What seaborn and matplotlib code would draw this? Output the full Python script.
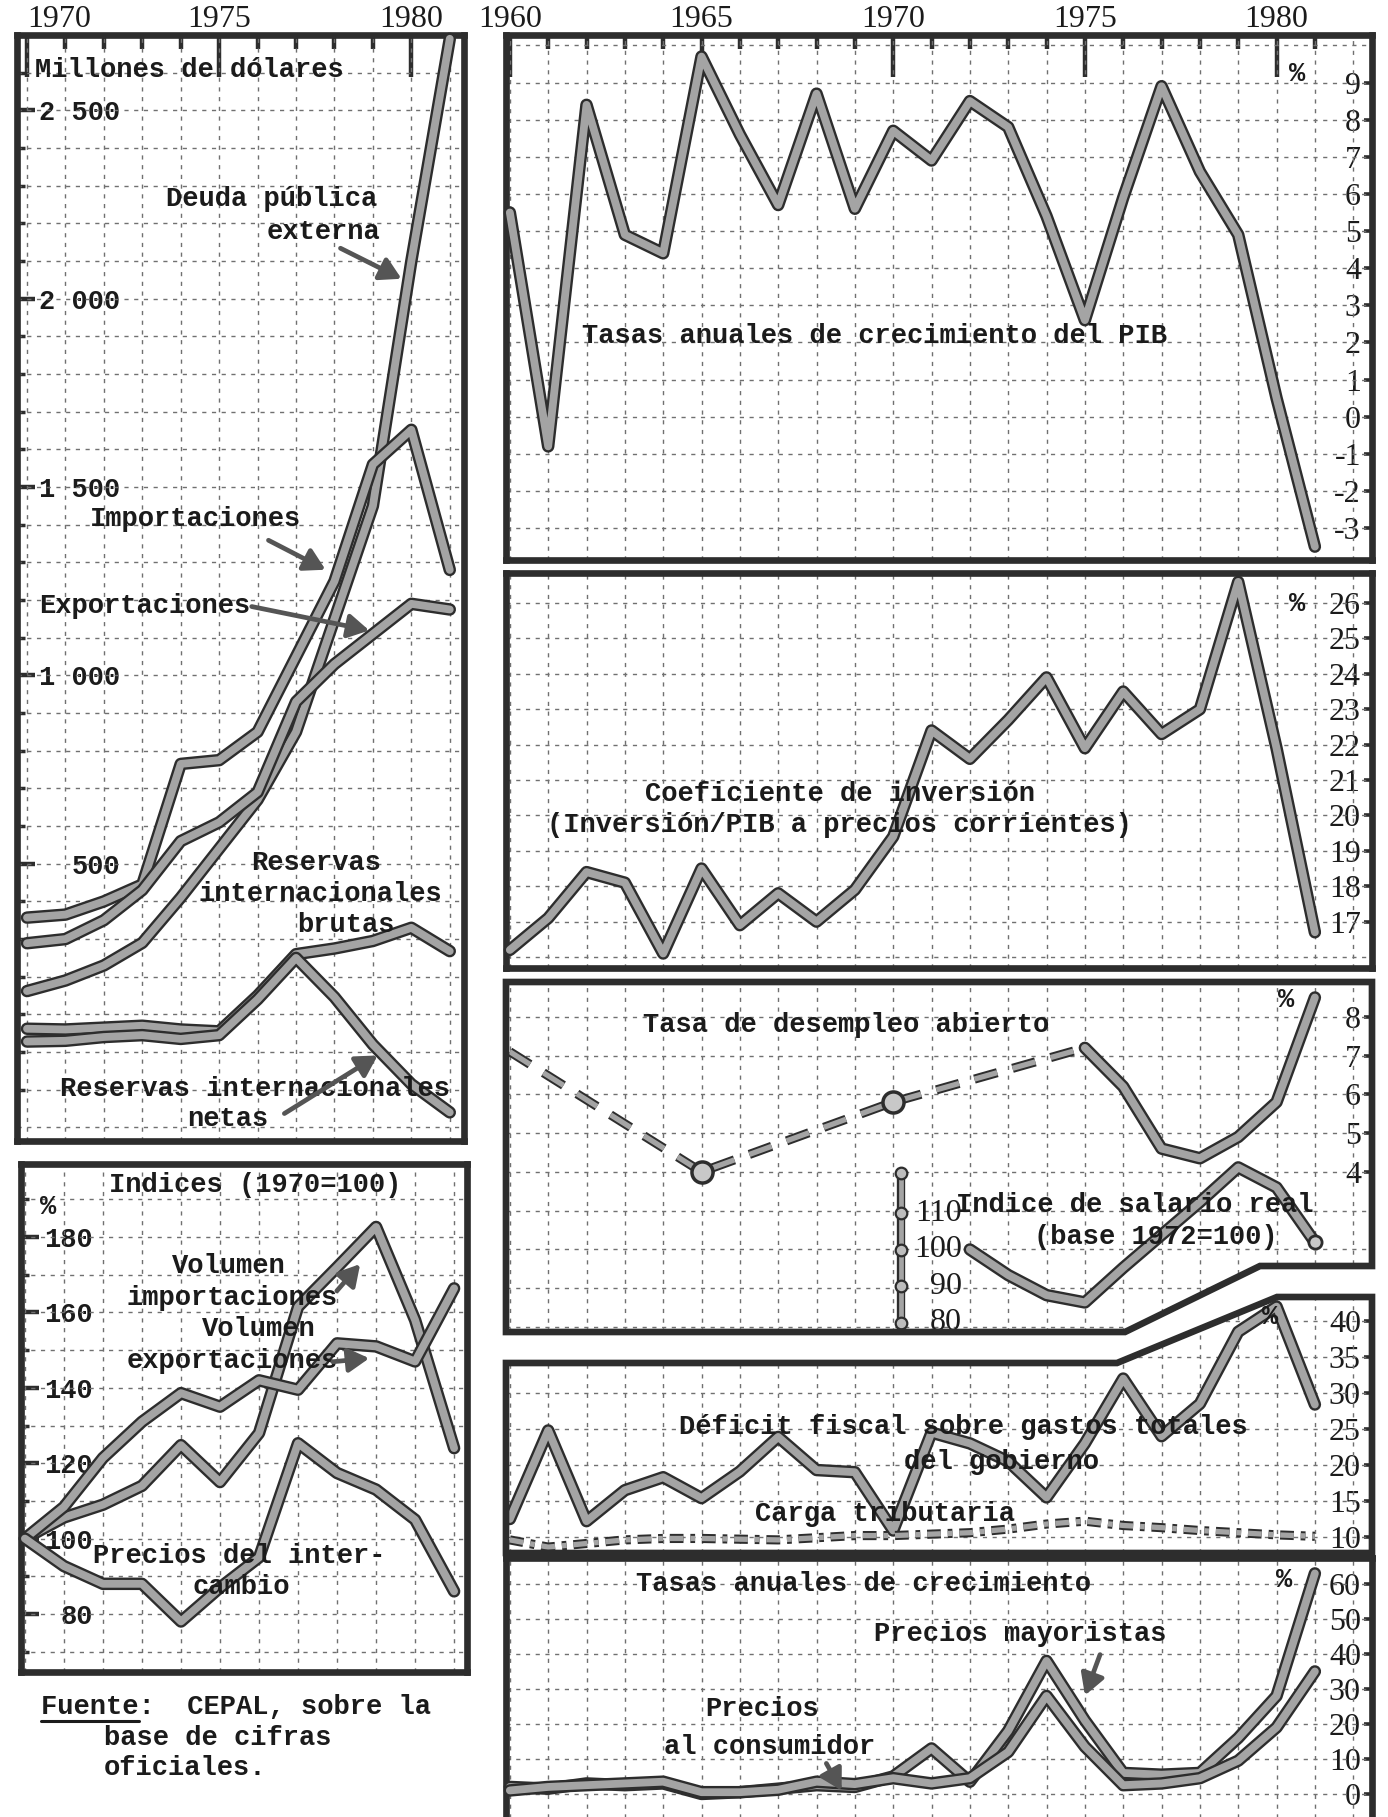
import matplotlib
matplotlib.use("Agg")
import matplotlib.pyplot as plt
import matplotlib.patheffects as pe
from matplotlib.patches import Polygon, FancyArrowPatch
from matplotlib.lines import Line2D
import seaborn as sns

W, H = 1388, 1817

# ---------------- data: left column (1970-1981) ----------------
anos_70 = list(range(1970, 1982))
deuda_publica = [162, 190, 230, 290, 410, 540, 670, 850, 1150, 1450, 2100, 2690]
importaciones = [357, 365, 400, 445, 765, 775, 850, 1050, 1250, 1560, 1652, 1280]
exportaciones = [289, 300, 350, 430, 560, 610, 690, 930, 1030, 1110, 1190, 1175]
reservas_brutas = [62, 60, 65, 70, 60, 55, 150, 260, 275, 295, 330, 268]
reservas_netas = [28, 30, 40, 45, 35, 45, 140, 250, 146, 20, -85, -160]

vol_importaciones = [100, 105.6, 109, 114, 124.8, 115, 128, 161.5, 172, 182.7, 158, 124]
vol_exportaciones = [100, 108.4, 121.4, 131, 138.6, 135, 142, 139.5, 151.8, 151, 147, 166.4]
precios_intercambio = [100, 92.7, 88, 88, 78, 87, 95, 125.3, 117.4, 113, 105, 86]

# ---------------- data: right column (1960-1981) ----------------
anos_60 = list(range(1960, 1982))
pib = [5.5, -0.8, 8.4, 4.9, 4.4, 9.7, 7.6, 5.7, 8.7, 5.6, 7.7, 6.9, 8.5, 7.8,
       5.4, 2.6, 5.9, 8.9, 6.6, 4.9, 0.5, -3.5]
inversion = [16.2, 17.1, 18.4, 18.1, 16.1, 18.5, 16.9, 17.8, 17.0, 17.9, 19.4,
             22.4, 21.6, 22.7, 23.9, 21.9, 23.5, 22.3, 23.0, 26.6, 21.9, 16.7]
desempleo_censo_anos = [1960, 1965, 1970, 1975]
desempleo_censo = [7.1, 4.0, 5.8, 7.2]
desempleo_anos = [1975, 1976, 1977, 1978, 1979, 1980, 1981]
desempleo = [7.2, 6.2, 4.6, 4.35, 4.9, 5.8, 8.5]
salario_anos = list(range(1972, 1982))
salario_real = [100, 93, 87.5, 85.5, 95, 104, 113, 122.5, 117, 102]
deficit_fiscal = [12.5, 24.8, 12.2, 16.5, 18.3, 15.4, 19.1, 23.9, 19.3, 19.0, 10.9,
                  24.5, 23.0, 20.5, 15.5, 23.0, 32.0, 24.0, 28.5, 38.5, 42.0, 28.4]
carga_tributaria = [9.6, 8.6, 9.1, 9.6, 9.8, 9.8, 9.7, 9.6, 9.9, 10.2, 10.2, 10.4,
                    10.6, 11.1, 11.8, 12.2, 11.6, 11.3, 10.9, 10.6, 10.3, 10.1]
precios_consumidor = [1.0, 2.0, 2.5, 3.0, 3.5, 0.5, 0.5, 1.2, 3.5, 2.8, 4.5, 3.0,
                      4.5, 12.0, 28.0, 13.5, 2.5, 3.0, 4.5, 9.5, 19.0, 35.0]
precios_mayoristas = [2.0, 1.5, 3.0, 2.5, 3.0, 0.0, 0.5, 1.5, 2.5, 2.0, 5.0, 13.0,
                      3.5, 18.0, 38.0, 21.0, 6.0, 5.5, 6.0, 16.0, 28.0, 63.0]

# ---------------- style ----------------
sns.set_theme(style="white")
MONO = ["Liberation Mono", "DejaVu Sans Mono"]
SERIF = ["Liberation Serif", "DejaVu Serif"]
plt.rcParams["font.family"] = MONO

INK = "#1b1b1b"
EDGE = "#2d2d2d"
FILL = "#a4a4a4"
GRID = "#707070"
TXT = 19.5
NUM = 23

fig = plt.figure(figsize=(W / 100, H / 100), dpi=100)


def fx(x):
    return x / W


def fy(y):
    return 1 - y / H


def panel(l, t, r, b, xlim, ylim, spines=True):
    ax = fig.add_axes([l / W, 1 - b / H, (r - l) / W, (b - t) / H])
    ax.patch.set_visible(False)
    for s in ax.spines.values():
        s.set_linewidth(4.8)
        s.set_color(EDGE)
        s.set_visible(spines)
    ax.set_xlim(*xlim)
    ax.set_ylim(*ylim)
    ax.set_xticks([])
    ax.set_yticks([])
    return ax


def grid(ax, xs, ys, clip=None):
    x0, x1 = ax.get_xlim()
    y0, y1 = ax.get_ylim()
    v = ax.vlines(xs, y0, y1, colors=GRID, linewidth=1.0,
                  linestyles=[(0, (3, 4))], zorder=1)
    h = ax.hlines(ys, x0, x1, colors=GRID, linewidth=1.0,
                  linestyles=[(0, (3, 4))], zorder=1)
    if clip is not None:
        v.set_clip_path(clip)
        h.set_clip_path(clip)


def serie(ax, x, y, ls="-", lw=5.6, edge=3.4):
    sns.lineplot(x=x, y=y, ax=ax, color=FILL, linewidth=lw, linestyle=ls,
                 estimator=None, sort=False, legend=False, zorder=4, clip_on=False,
                 solid_joinstyle="round", solid_capstyle="round",
                 path_effects=[pe.Stroke(linewidth=lw + edge, foreground=EDGE),
                               pe.Normal()])


def right_ticks(ax, ticks):
    ax.yaxis.set_ticks_position("right")
    ax.set_yticks(ticks)
    ax.set_yticklabels([str(t) for t in ticks], fontfamily=SERIF,
                       fontsize=NUM, color=INK)
    ax.tick_params(axis="y", which="major", direction="in", length=6, width=2.6,
                   color=EDGE, pad=-8, labelright=True, labelleft=False,
                   right=True, left=False)
    for lab in ax.get_yticklabels():
        lab.set_horizontalalignment("right")


def left_ticks(ax, ticks, labels, minor, pad_px):
    ax.set_yticks(ticks)
    ax.set_yticklabels(labels, fontsize=TXT, color=INK, fontweight="bold")
    ax.set_yticks(minor, minor=True)
    ax.tick_params(axis="y", which="major", direction="in", length=13, width=3.2,
                   color=EDGE, pad=-pad_px * 0.72, left=True, right=False)
    ax.tick_params(axis="y", which="minor", direction="in", length=6, width=2.5,
                   color=EDGE, left=True, right=False)


def top_years(ax, major, minor):
    ax.xaxis.set_ticks_position("top")
    ax.set_xticks(major)
    ax.set_xticklabels([str(m) for m in major], fontfamily=SERIF,
                       fontsize=NUM, color=INK)
    ax.set_xticks(minor, minor=True)
    ax.tick_params(axis="x", which="major", direction="in", length=30, width=3.2,
                   color=EDGE, top=True, bottom=False, labeltop=True,
                   labelbottom=False, pad=1)
    ax.tick_params(axis="x", which="minor", direction="in", length=10, width=3.2,
                   color=EDGE, top=True, bottom=False)


def label(x, y, s, ha="center", size=TXT, **kw):
    fig.text(fx(x), fy(y), s, ha=ha, va="center", fontsize=size,
             color=INK, fontfamily=MONO, fontweight="bold", **kw)


def arrow(x0, y0, x1, y1):
    fig.add_artist(FancyArrowPatch((fx(x0), fy(y0)), (fx(x1), fy(y1)),
                                   transform=fig.transFigure,
                                   arrowstyle="-|>,head_length=0.7,head_width=0.4",
                                   mutation_scale=18, lw=3.4, color="#555555",
                                   zorder=6))


def frame(points):
    pts = [(fx(x), fy(y)) for x, y in points]
    fig.add_artist(Polygon(pts, closed=True, fill=False, lw=4.8,
                           edgecolor=EDGE, transform=fig.transFigure, zorder=5))
    return Polygon(pts, closed=True, transform=fig.transFigure)


years_a = list(range(1970, 1982))
years_b = list(range(1960, 1983))

# ---------------- left top: millones de dolares ----------------
axA = panel(17, 35, 464, 1141, (1969.74, 1981.37), (-236, 2700))
grid(axA, years_a, list(range(-200, 2701, 100)))
serie(axA, anos_70, deuda_publica)
serie(axA, anos_70, importaciones)
serie(axA, anos_70, exportaciones)
serie(axA, anos_70, reservas_brutas)
serie(axA, anos_70, reservas_netas)
top_years(axA, [1970, 1975, 1980], years_a)
axA.get_xticklabels()[0].set_horizontalalignment("left")
left_ticks(axA, [500, 1000, 1500, 2000, 2500],
           ["500", "1 000", "1 500", "2 000", "2 500"],
           list(range(-100, 2701, 100)), 103)
axA.set_ylim(-236, 2700)
axA.set_xlim(1969.74, 1981.37)

label(35, 70, "Millones de dólares", ha="left")
label(272, 199, "Deuda pública")
label(324, 232, "externa")
arrow(338, 247, 404, 280)
label(195, 519, "Importaciones")
arrow(266, 539, 328, 571)
label(145, 606, "Exportaciones")
arrow(249, 606, 372, 631)
label(316, 863, "Reservas")
label(320, 894, "internacionales")
label(346, 925, "brutas")
label(255, 1089, "Reservas internacionales")
label(228, 1119, "netas")
arrow(282, 1115, 380, 1054)

# ---------------- left bottom: indices ----------------
axB = panel(21, 1164, 467, 1672, (1969.9, 1981.33), (64.6, 199.4))
grid(axB, years_a, list(range(70, 200, 10)))
serie(axB, anos_70, vol_importaciones)
serie(axB, anos_70, vol_exportaciones)
serie(axB, anos_70, precios_intercambio)
left_ticks(axB, [80, 100, 120, 140, 160, 180],
           ["80", "100", "120", "140", "160", "180"],
           list(range(70, 200, 10)), 72)
axB.set_ylim(64.6, 199.4)
axB.set_xlim(1969.9, 1981.33)

label(255, 1185, "Indices (1970=100)")
label(40, 1207, "%", ha="left")
label(229, 1266, "Volumen")
label(232, 1298, "importaciones")
label(259, 1329, "Volumen")
label(232, 1361, "exportaciones")
arrow(335, 1293, 362, 1262)
arrow(330, 1362, 372, 1358)
label(239, 1556, "Precios del inter-")
label(241, 1587, "cambio")

label(41, 1707, "Fuente:  CEPAL, sobre la", ha="left")
label(104, 1738, "base de cifras", ha="left")
label(104, 1768, "oficiales.", ha="left")
fig.add_artist(Line2D([fx(41), fx(139)], [fy(1721), fy(1721)],
                      transform=fig.transFigure, lw=2.2, color=INK))

# ---------------- right panels ----------------
RX = (1959.9, 1982.49)

ax1 = panel(506, 35, 1372, 560, RX, (-3.86, 10.28))
grid(ax1, years_b, list(range(-3, 11)))
serie(ax1, anos_60, pib)
top_years(ax1, [1960, 1965, 1970, 1975, 1980], anos_60)
right_ticks(ax1, list(range(-3, 10)))
ax1.set_ylim(-3.86, 10.28)
ax1.set_xlim(*RX)
label(875, 336, "Tasas anuales de crecimiento del PIB")
label(1297, 74, "%")

ax2 = panel(506, 573, 1372, 968, RX, (15.69, 26.85))
grid(ax2, years_b, list(range(16, 27)))
serie(ax2, anos_60, inversion)
right_ticks(ax2, list(range(17, 27)))
ax2.set_ylim(15.69, 26.85)
ax2.set_xlim(*RX)
label(840, 794, "Coeficiente de inversión")
label(840, 825, "(Inversión/PIB a precios corrientes)")
label(1297, 604, "%")

# panel 3 with stepped lower border
clip3 = frame([(506, 982), (1372, 982), (1372, 1266), (1260, 1266),
               (1125, 1332), (506, 1332)])
ax3 = panel(506, 982, 1372, 1332, RX, (-0.134, 8.9), spines=False)
ax3s = ax3.twinx()
grid(ax3, years_b, list(range(0, 9)), clip=clip3)
serie(ax3, desempleo_censo_anos, desempleo_censo, ls=(0, (4.5, 3)), lw=3.8, edge=2.8)
serie(ax3, desempleo_anos, desempleo)
sns.scatterplot(x=desempleo_censo_anos[1:3], y=desempleo_censo[1:3], ax=ax3,
                s=230, color="#c8c8c8", edgecolor=EDGE, linewidth=2.5,
                zorder=6, legend=False, clip_on=False)
right_ticks(ax3, [4, 5, 6, 7, 8])
ax3.set_ylim(-0.134, 8.9)
ax3.set_xlim(*RX)
label(846, 1025, "Tasa de desempleo abierto")
label(1286, 1000, "%")

ax3s.patch.set_visible(False)
ax3s.set_ylim(77.4, 173.3)
ax3s.axis("off")
serie(ax3s, salario_anos, salario_real)
sns.scatterplot(x=salario_anos[-1:], y=salario_real[-1:], ax=ax3s, s=90,
                color="#c8c8c8", edgecolor=EDGE, linewidth=2, zorder=6,
                legend=False, clip_on=False)
ax3s.plot([1970.2, 1970.2], [78.5, 121], color=FILL, lw=3.4, zorder=4,
          path_effects=[pe.Stroke(linewidth=6, foreground=EDGE), pe.Normal()])
ax3s.scatter([1970.2] * 5, [80, 90, 100, 110, 121], s=70, marker="o",
             color="#bdbdbd", edgecolor=EDGE, linewidth=1.6, zorder=5)
for v in [80, 90, 100, 110]:
    ax3s.text(1971.8, v, str(v), ha="right", va="center", fontsize=NUM,
              fontfamily=SERIF, color=INK)
ax3s.set_xlim(*RX)
label(1135, 1205, "Indice de salario real")
label(1156, 1237, "(base 1972=100)")

# panel 4 with stepped upper border
clip4 = frame([(506, 1363), (1117, 1363), (1277, 1297), (1372, 1297),
               (1372, 1553), (506, 1553)])
ax4 = panel(506, 1297, 1372, 1553, RX, (7.78, 43.33), spines=False)
grid(ax4, years_b, list(range(10, 45, 5)), clip=clip4)
serie(ax4, anos_60, deficit_fiscal)
serie(ax4, anos_60, carga_tributaria, ls=(0, (2.6, 1.3, 0.9, 1.3)), lw=3.8, edge=2.8)
right_ticks(ax4, [10, 15, 20, 25, 30, 35, 40])
ax4.set_ylim(7.78, 43.33)
ax4.set_xlim(*RX)
label(963, 1427, "Déficit fiscal sobre gastos totales")
label(1002, 1462, "del gobierno")
label(885, 1514, "Carga tributaria")
label(1270, 1317, "%")

# panel 5: prices
ax5 = panel(506, 1558, 1372, 1830, RX, (-10.3, 67.4))
grid(ax5, years_b, list(range(0, 70, 10)))
serie(ax5, anos_60, precios_mayoristas)
serie(ax5, anos_60, precios_consumidor)
right_ticks(ax5, [0, 10, 20, 30, 40, 50, 60])
ax5.set_ylim(-10.3, 67.4)
ax5.set_xlim(*RX)
label(864, 1584, "Tasas anuales de crecimiento")
label(1284, 1580, "%")
label(1020, 1634, "Precios mayoristas")
arrow(1101, 1652, 1084, 1698)
label(762, 1709, "Precios")
label(770, 1747, "al consumidor")
arrow(825, 1761, 843, 1793)

fig.savefig("out.png", dpi=100)
